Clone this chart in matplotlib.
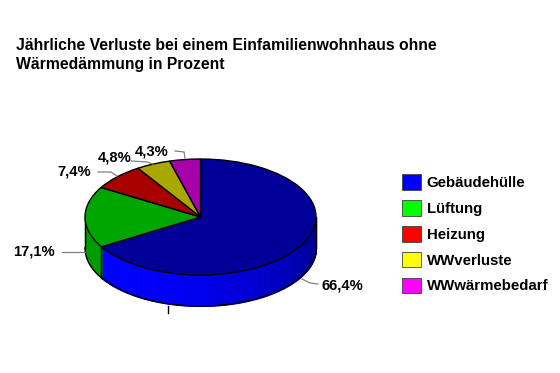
import numpy as np
import matplotlib
matplotlib.use("Agg")
import matplotlib.pyplot as plt
from matplotlib.patches import Patch

plt.rcParams['font.family'] = ['Liberation Sans', 'DejaVu Sans']

# Daten
categories = ['Gebäudehülle', 'Lüftung', 'Heizung', 'WWverluste', 'WWwärmebedarf']
values = [66.4, 17.1, 7.4, 4.8, 4.3]
value_labels = ['66,4%', '17,1%', '7,4%', '4,8%', '4,3%']
legend_colors = ['#0000FF', '#00FF00', '#FF0000', '#FFFF00', '#FF00FF']
top_colors = ['#000099', '#00A600', '#A80000', '#A8A800', '#A800A8']
side_colors = ['#0000FF', '#00A000', '#B00000', '#B0B000', '#B000B0']

W, H = 560, 373
fig = plt.figure(figsize=(W / 100, H / 100), dpi=100)
ax = fig.add_axes([0, 0, 1, 1])

# Pixel-Geometrie der Ellipse
cx, cy = 200.5, 217.0
rx, ry = 115.5, 58.0
depth = 31.0 / ry

# Seitenwand (vorderer Teil) als schmale Streifen mit Schattierung
cum = np.concatenate([[0], np.cumsum(values)]) / np.sum(values)
starts = 90 - 360 * cum[:-1]
ends = 90 - 360 * cum[1:]
bounds = []
for i in range(len(values)):
    for shift in (0, 360, -360):
        a0 = max(ends[i] + shift, -180)
        a1 = min(starts[i] + shift, 0)
        if a1 > a0:
            th = np.radians(np.linspace(a0, a1, max(int(a1 - a0), 2) + 1))
            for j in range(len(th) - 1):
                t = th[j:j + 2]
                mid = t.mean()
                k = 0.74 + 0.26 * np.cos(mid - np.radians(-135))
                c = np.clip(np.array(matplotlib.colors.to_rgb(side_colors[i])) * k, 0, 1)
                ax.fill_between(np.cos(t), np.sin(t) - depth, np.sin(t),
                                color=c, linewidth=0.8, antialiased=False, zorder=1)
            bounds += [a0, a1]

# Umrisse der Seitenwand
th = np.radians(np.linspace(-180, 0, 200))
ax.plot(np.cos(th), np.sin(th) - depth, color='black', lw=1, zorder=2)
for b in set(np.round(bounds, 3)):
    t = np.radians(b)
    ax.plot([np.cos(t)] * 2, [np.sin(t), np.sin(t) - depth], color='black', lw=1, zorder=2)

# Deckfläche
wedges, _ = ax.pie(values, colors=top_colors, startangle=90, counterclock=False,
                   wedgeprops=dict(edgecolor='black', linewidth=1))
for w in wedges:
    w.set_zorder(3)

ax.set_aspect('auto')
ax.set_xlim(-cx / rx, (W - cx) / rx)
ax.set_ylim(-(H - cy) / ry, cy / ry)
ax.axis('off')


def px(x, y):
    return ((x - cx) / rx, (cy - y) / ry)


# Beschriftungen mit Führungslinien (Pixelpositionen)
label_pos = [(322, 285), (13, 252), (57, 172), (98, 157), (135, 152)]
leaders = [
    [(302, 279), (310, 283), (318, 284)],
    [(85, 252), (62, 252)],
    [(117, 176), (111, 172), (98, 172)],
    [(153, 164), (147, 162), (131, 161)],
    [(185, 158), (184, 152), (175, 151)],
]
for (x, y), lab, pts in zip(label_pos, value_labels, leaders):
    ax.text(*px(x, y), lab, fontsize=10.6, fontweight='bold', ha='left', va='center', zorder=5)
    xs, ys = zip(*[px(a, b) for a, b in pts])
    ax.plot(xs, ys, color='#808080', lw=0.9, zorder=4)

# kleiner Strich unterhalb
ax.plot(*zip(px(168, 306), px(168, 313)), color='black', lw=1, zorder=4)

# Titel
fig.text(16 / W, 1 - 45 / H, 'Jährliche Verluste bei einem Einfamilienwohnhaus ohne',
         fontsize=11.3, fontweight='bold', ha='left', va='center')
fig.text(16 / W, 1 - 64 / H, 'Wärmedämmung in Prozent',
         fontsize=11.3, fontweight='bold', ha='left', va='center')

# Legende
handles = [Patch(facecolor=c, edgecolor='#404040', linewidth=0.6) for c in legend_colors]
leg = fig.legend(handles, categories, loc='upper left', bbox_to_anchor=(402 / W, 1 - 174 / H),
                 frameon=False, prop=dict(size=10.8, weight='bold'),
                 handlelength=1.25, handleheight=1.25, handletextpad=0.4,
                 labelspacing=0.66, borderaxespad=0, borderpad=0)

fig.savefig('out.png', dpi=100)
